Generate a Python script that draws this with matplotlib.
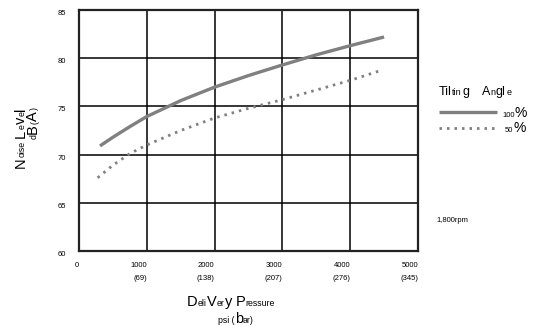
import matplotlib
matplotlib.use('Agg')
import matplotlib.pyplot as plt
from matplotlib.font_manager import FontProperties
from matplotlib.lines import Line2D

plt.rcParams['font.family'] = ['Liberation Sans', 'DejaVu Sans']
FAM = 'Liberation Sans'

# Data (delivery pressure in psi vs noise in dB(A))
psi_100 = [310, 500, 750, 1000, 1500, 2000, 2500, 3000, 3500, 4000, 4500]
noise_100 = [70.9, 71.8, 72.9, 73.95, 75.6, 77.0, 78.2, 79.3, 80.35, 81.3, 82.2]
psi_50 = [275, 500, 750, 1000, 1500, 2000, 2500, 3000, 3500, 4000, 4440]
noise_50 = [67.6, 68.9, 70.1, 71.0, 72.5, 73.8, 74.8, 75.7, 76.7, 77.7, 78.7]

x_ticks = [0, 1000, 2000, 3000, 4000, 5000]
x_ticklabels = ['0', '1000', '2000', '3000', '4000', '5000']
bar_labels = ['', '(69)', '(138)', '(207)', '(276)', '(345)']
y_ticks = [60, 65, 70, 75, 80, 85]

W, H = 548, 326
fig = plt.figure(figsize=(W / 100, H / 100), dpi=100)
ax = fig.add_axes([79 / W, 1 - 251 / H, (418 - 79) / W, (251 - 10) / H])

line100, = ax.plot(psi_100, noise_100, color='#808080', lw=2.4,
                   solid_capstyle='butt', zorder=3)
line50, = ax.plot(psi_50, noise_50, color='#808080', lw=2.0,
                  linestyle=(0, (0.9, 1.8)), dash_capstyle='butt', zorder=3)

ax.set_xlim(0, 5000)
ax.set_ylim(60, 85)
ax.set_xticks(x_ticks)
ax.set_xticklabels(x_ticklabels, fontsize=5.5)
for lab in ax.get_xticklabels():
    lab.set_ha('right')
ax.set_yticks(y_ticks)
ax.set_yticklabels([str(v) for v in y_ticks], fontsize=5.5)
for lab in ax.get_yticklabels():
    lab.set_va('top')
ax.tick_params(length=0)
ax.tick_params(axis='x', pad=8)
ax.tick_params(axis='y', pad=9.5)
ax.grid(True, color='black', lw=1.1)
for s in ax.spines.values():
    s.set_linewidth(1.6)
    s.set_color('#222222')

# bar equivalents under the psi ticks
for xv, b in zip(x_ticks, bar_labels):
    ax.annotate(b, xy=(xv, 0), xycoords=('data', 'axes fraction'),
                xytext=(0, -28), textcoords='offset pixels',
                ha='right', va='center', fontsize=5.5)

renderer = fig.canvas.get_renderer()


def mixed_text(x, y, pieces, rot=0, anchor='center'):
    # pieces of different sizes on one baseline; x, y in pixels from top-left
    widths = []
    for s, sz in pieces:
        if s is None:
            widths.append(sz)
        else:
            w, _, _ = renderer.get_text_width_height_descent(
                s, FontProperties(family=FAM, size=sz), ismath=False)
            widths.append(w + 0.4)
    total = sum(widths)
    pos = {'center': -total / 2, 'left': 0, 'right': -total}[anchor]
    for (s, sz), w in zip(pieces, widths):
        if s is not None:
            if rot == 0:
                px, py = x + pos, H - y
            else:
                px, py = x, H - y + pos
            fig.text(px / W, py / H, s, fontsize=sz, family=FAM,
                     rotation=rot, rotation_mode='anchor',
                     ha='left', va='baseline')
        pos += w


B, S = 10.5, 6.3
# y axis title (reads bottom to top, ends at y=107)
mixed_text(25, 107, [('N', B), ('oise', S), (None, 3), ('L', B), ('e', S),
                     ('v', B), ('e', S), ('l', B)], rot=90, anchor='right')
mixed_text(37, 107, [('d', S), ('B', B), ('(', S), ('A', B), (')', S)],
           rot=90, anchor='right')

# x axis title
mixed_text(231, 306, [('D', B), ('eli', S), ('V', B), ('er', S), ('y', B),
                      (None, 2.5), ('P', B), ('ressure', S)])
mixed_text(236, 323, [('psi (', S), ('b', B), ('ar)', S)])

# legend
mixed_text(439, 95, [('Til', 9), ('tin', 6.5), ('g', 9), (None, 12),
                     ('A', 9), ('n', 6.5), ('gl', 9), ('e', 6.5)], anchor='left')
fig.add_artist(Line2D([439 / W, 497 / W], [1 - 112 / H, 1 - 112 / H],
                      color='#808080', lw=2.4, solid_capstyle='butt'))
fig.add_artist(Line2D([439 / W, 497 / W], [1 - 128 / H, 1 - 128 / H],
                      color='#808080', lw=2.0, linestyle=(0, (0.9, 1.8)),
                      dash_capstyle='butt'))
mixed_text(502, 117, [('100', 5.5), ('%', 10)], anchor='left')
mixed_text(505, 132, [('50', 5.5), ('%', 10)], anchor='left')

fig.text(436 / W, 1 - 221 / H, '1,800rpm', ha='left', va='center', fontsize=5.5)

fig.savefig('out.png', dpi=100)
